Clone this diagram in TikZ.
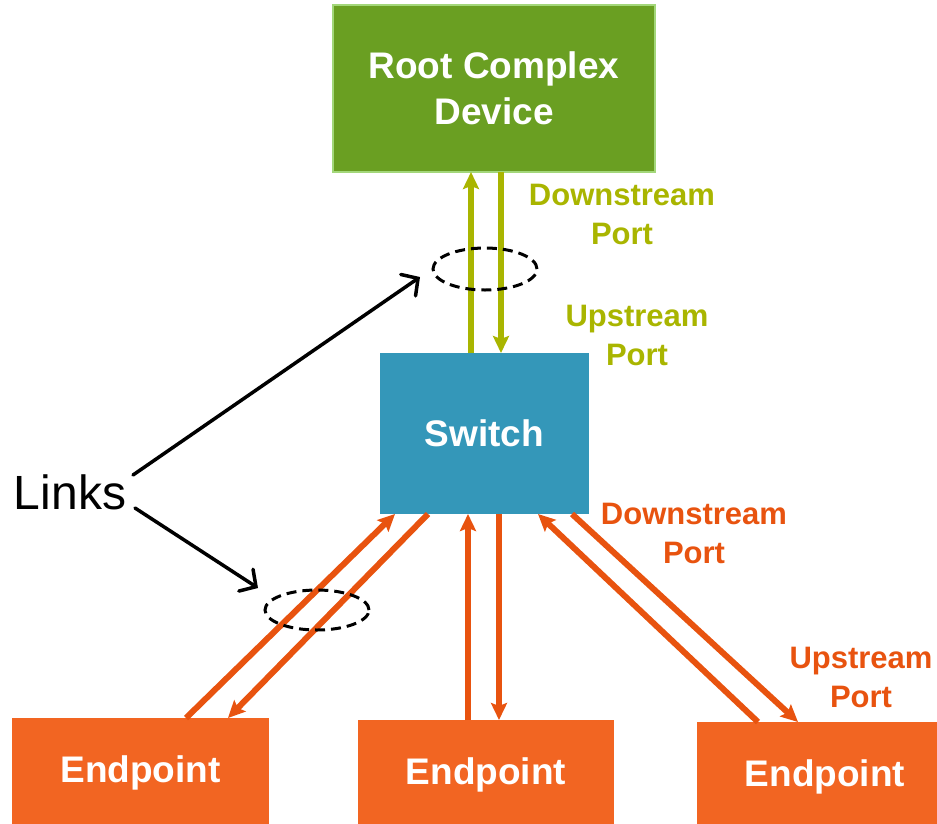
\documentclass[tikz,border=0pt]{standalone}
\usepackage{fontspec}
\setmainfont{Liberation Sans}
\usetikzlibrary{arrows.meta,calc,shapes.geometric}

\definecolor{rootfill}{HTML}{6A9F22}
\definecolor{rootedge}{HTML}{A3D77A}
\definecolor{swfill}{HTML}{3497B9}
\definecolor{epfill}{HTML}{F26522}
\definecolor{olive}{HTML}{A9B500}
\definecolor{rust}{HTML}{E8530F}

\tikzset{
  box/.style={rectangle, anchor=north west, inner sep=0pt, outer sep=0pt,
    text=white, align=center, font=\bfseries\fontsize{37}{46}\selectfont},
  portlabel/.style={align=center, font=\bfseries\fontsize{31}{39}\selectfont},
  olivearrow/.style={draw=olive, line width=6pt,
    -{Stealth[length=17pt,width=16pt,inset=3pt]}},
  rustarrow/.style={draw=rust, line width=6pt,
    -{Stealth[length=17pt,width=16pt,inset=3pt]}},
  pointer/.style={draw=black, line width=3.5pt, line cap=round,
    -{Straight Barb[length=12pt,width=26pt,line cap=round]}},
  linkring/.style={draw=black, line width=3pt, dash pattern=on 10pt off 6pt}
}

\begin{document}
\begin{tikzpicture}[x=1pt,y=-1pt]
\useasboundingbox (0,0) rectangle (937,823);

% devices
\node[box, fill=rootfill, draw=rootedge, line width=2pt,
      minimum width=322pt, minimum height=167pt] (root) at (333,5)
      {Root Complex\\Device};
\node[box, fill=swfill, minimum width=209pt, minimum height=161pt]
      (sw) at (380,353) {Switch};
\node[box, fill=epfill, minimum width=257pt, minimum height=110pt]
      (ep1) at (12,718) {Endpoint};
\node[box, fill=epfill, minimum width=256pt, minimum height=110pt]
      (ep2) at (358,720) {Endpoint};
\node[box, fill=epfill, minimum width=256pt, minimum height=110pt]
      (ep3) at (697,722) {Endpoint};

% link between root complex and switch
\draw[olivearrow] ($(sw.north west)+(91,0)$) -- ($(root.south west)+(138,0)$);
\draw[olivearrow] ($(root.south west)+(168,0)$) -- ($(sw.north west)+(121,0)$);

% links between switch and endpoints
\draw[rustarrow] ($(ep1.north west)+(174,0)$) -- ($(sw.south west)+(15,0)$);
\draw[rustarrow] ($(sw.south west)+(48,0)$) -- ($(ep1.north west)+(216,0)$);
\draw[rustarrow] ($(ep2.north west)+(110,0)$) -- ($(sw.south west)+(88,0)$);
\draw[rustarrow] ($(sw.south west)+(119,0)$) -- ($(ep2.north west)+(141,0)$);
\draw[rustarrow] ($(ep3.north west)+(61,0)$) -- ($(sw.south west)+(158,0)$);
\draw[rustarrow] ($(sw.south west)+(192,0)$) -- ($(ep3.north west)+(101,0)$);

% port labels
\node[portlabel, text=olive] (dsr) at (622,214) {Downstream\\Port};
\node[portlabel, text=olive] (usr) at (637,335) {Upstream\\Port};
\node[portlabel, text=rust] (dse) at (694,533) {Downstream\\Port};
\node[portlabel, text=rust] (use) at (861,677) {Upstream\\Port};

% link rings
\node[linkring, ellipse, minimum width=104pt, minimum height=42pt,
      inner sep=0pt] (ringtop) at (485,269) {};
\node[linkring, ellipse, minimum width=104pt, minimum height=40pt,
      inner sep=0pt] (ringbot) at (317,610) {};

% links callout
\node[font=\fontsize{48}{50}\selectfont, inner sep=0pt] (links) at (70,492) {Links};
\coordinate (lka) at (133,475);
\coordinate (lkb) at (135,508);
\coordinate (ta) at (420,277);
\coordinate (tb) at (258,588);
\draw[pointer] (lka) -- (ta);
\draw[pointer] (lkb) -- (tb);
\end{tikzpicture}
\end{document}
